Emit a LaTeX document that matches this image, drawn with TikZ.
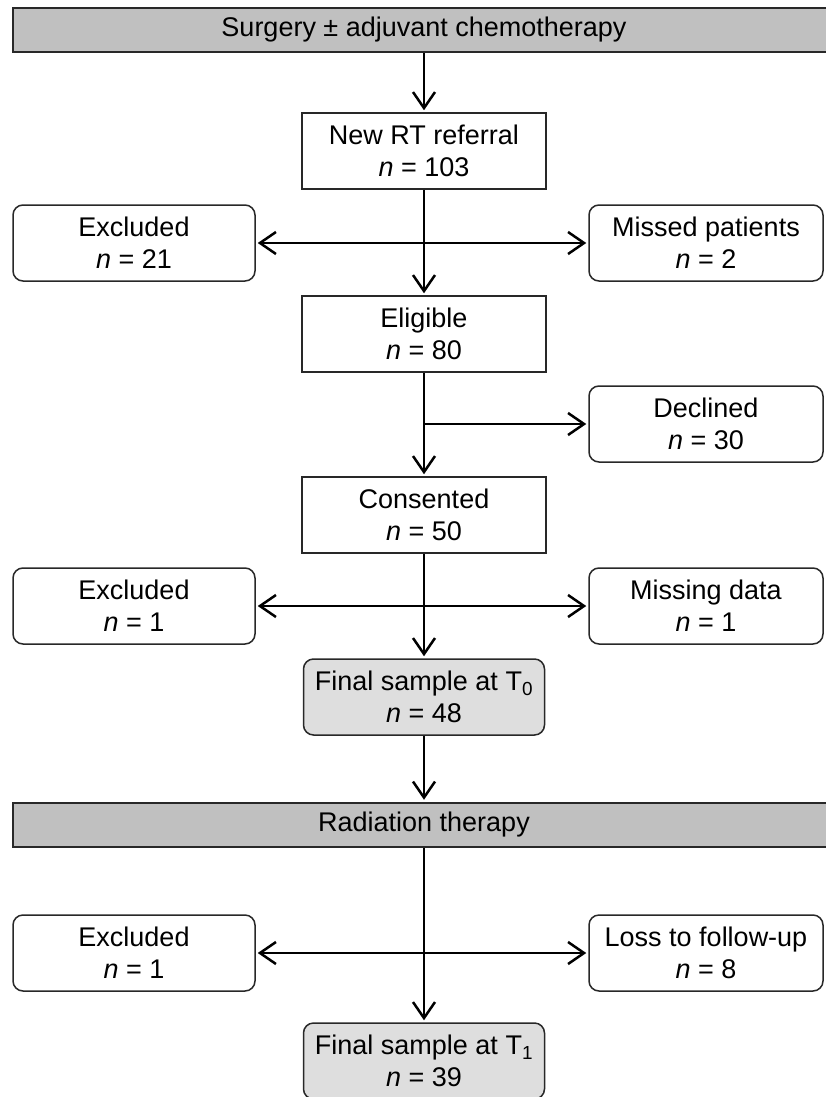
\documentclass[tikz,border=0pt]{standalone}
\usepackage{fontspec}
\setmainfont{Liberation Sans}
\usetikzlibrary{arrows.meta,positioning}
\definecolor{bannergray}{RGB}{192,192,192}
\definecolor{samplegray}{RGB}{222,222,222}
\definecolor{edgegray}{RGB}{40,40,40}

\tikzset{
  stagebox/.style={draw=edgegray,line width=1.5pt,minimum width=244pt,minimum height=76pt,align=center,inner sep=0pt},
  sidebox/.style={stagebox,rounded corners=10pt,minimum width=242pt},
  samplebox/.style={stagebox,rounded corners=10pt,fill=samplegray,minimum width=241pt},
  banner/.style={draw=edgegray,line width=2.5pt,fill=bannergray,minimum width=822pt,minimum height=44pt,inner sep=0pt},
  flow/.style={line width=2.5pt,-{Straight Barb[length=16pt,width=22pt]},shorten >=2pt},
  link/.style={line width=2.5pt}
}

\begin{document}
\begin{tikzpicture}[x=1pt,y=-1pt,font=\fontsize{27}{32}\selectfont]
  \useasboundingbox (0,0) rectangle (825,1097);
  % stages down the middle
  \node[banner] (surg) at (424,30) {Surgery ± adjuvant chemotherapy};
  \node[stagebox] (refer) at (424,151) {New RT referral\\\textit{n} = 103};
  \node[stagebox] (elig) at (424,334) {Eligible\\\textit{n} = 80};
  \node[stagebox] (cons) at (424,515) {Consented\\\textit{n} = 50};
  \node[samplebox] (tzero) at (424,697) {Final sample at T\textsubscript{0}\\\textit{n} = 48};
  \node[banner] (radio) at (424,825) {Radiation therapy};
  \node[samplebox] (tone) at (424,1061) {Final sample at T\textsubscript{1}\\\textit{n} = 39};
  % side boxes
  \node[sidebox] (exclA) at (134,243) {Excluded\\\textit{n} = 21};
  \node[sidebox,minimum width=234pt] (missA) at (706,243) {Missed patients\\\textit{n} = 2};
  \node[sidebox,minimum width=234pt] (decl) at (706,424) {Declined\\\textit{n} = 30};
  \node[sidebox] (exclB) at (134,606) {Excluded\\\textit{n} = 1};
  \node[sidebox,minimum width=234pt] (missB) at (706,606) {Missing data\\\textit{n} = 1};
  \node[sidebox] (exclC) at (134,953) {Excluded\\\textit{n} = 1};
  \node[sidebox,minimum width=234pt] (loss) at (706,953) {Loss to follow-up\\\textit{n} = 8};
  % branch points
  \coordinate (brA) at (refer.south |- exclA.east);
  \coordinate (brB) at (elig.south |- decl.west);
  \coordinate (brC) at (cons.south |- exclB.east);
  \coordinate (brD) at (radio.south |- exclC.east);
  % connectors
  \draw[flow] (surg) -- (refer);
  \draw[flow] (refer) -- (elig);
  \draw[flow] (elig) -- (cons);
  \draw[flow] (cons) -- (tzero);
  \draw[flow] (tzero) -- (radio);
  \draw[flow] (radio) -- (tone);
  \draw[flow] (brA) -- (exclA);
  \draw[flow] (brA) -- (missA);
  \draw[flow] (brB) -- (decl);
  \draw[flow] (brC) -- (exclB);
  \draw[flow] (brC) -- (missB);
  \draw[flow] (brD) -- (exclC);
  \draw[flow] (brD) -- (loss);
\end{tikzpicture}
\end{document}
